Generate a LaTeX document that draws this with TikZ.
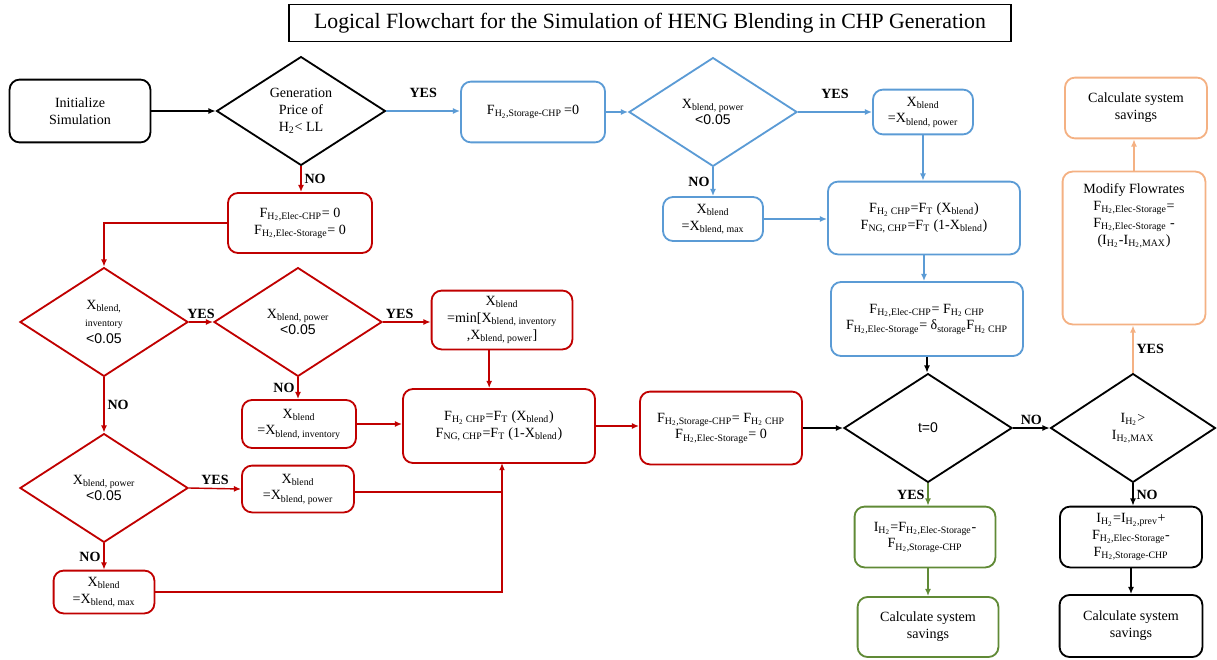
\documentclass[tikz,border=0pt]{standalone}
\usepackage{fontspec}
\setmainfont{Liberation Serif}
\newfontfamily\numfont{Liberation Sans}
\usetikzlibrary{arrows.meta,shapes.geometric}
\definecolor{flowred}{RGB}{192,0,0}
\definecolor{flowblue}{RGB}{91,155,213}
\definecolor{flowgreen}{RGB}{96,138,54}
\definecolor{floworange}{RGB}{244,177,131}
\newcommand{\sbs}[1]{\textsubscript{#1}}
\newcommand{\Hsub}{H\sbs{2}}

\begin{document}
\begin{tikzpicture}[x=0.025cm,y=-0.025cm]
  \tikzstyle{box}=[draw,line width=1.3pt,rounded corners=0.25cm,align=center,
    font=\fontsize{10pt}{12pt}\selectfont,inner sep=2pt]
  \tikzstyle{dec}=[draw,line width=1.3pt,diamond,align=center,inner sep=0pt,
    minimum width=4.2cm,minimum height=2.72cm,font=\fontsize{10pt}{12pt}\selectfont]
  \tikzstyle{flow}=[-{Latex[length=1.8mm,width=1.5mm]},line width=1pt]
  \tikzstyle{lbl}=[font=\bfseries\fontsize{10pt}{12pt}\selectfont,inner sep=2pt]
  \useasboundingbox (0,0) rectangle (1217,659);

  % -- Title --
  \node[draw,line width=1pt,minimum width=18.05cm,minimum height=0.92cm,
    font=\fontsize{15.5pt}{18pt}\selectfont] (title) at (650,23)
    {Logical Flowchart for the Simulation of HENG Blending in CHP Generation};

  % -- Start --
  \node[box,minimum width=3.52cm,minimum height=1.57cm] (init) at (80,111) {Initialize\\ Simulation};
  \node[dec,minimum width=4.22cm] (dprice) at (301,111) {Generation\\ Price of\\ \Hsub{}< LL};

  % -- Blue branch (cheap H2) --
  \node[box,draw=flowblue,minimum width=3.6cm,minimum height=1.52cm] (fstor) at (533,112)
    {F\sbs{\Hsub,Storage-CHP}\,=0};
  \node[dec,draw=flowblue] (dpowA) at (713,112) {X\sbs{blend, power}\\ {\numfont <0.05}};
  \node[box,draw=flowblue,minimum width=2.5cm,minimum height=1.12cm] (xpowA) at (923,112)
    {X\sbs{blend}\\ =X\sbs{blend, power}};
  \node[box,draw=flowblue,minimum width=2.5cm,minimum height=1.1cm] (xmaxA) at (713,219)
    {X\sbs{blend}\\ =X\sbs{blend, max}};
  \node[box,draw=flowblue,minimum width=4.8cm,minimum height=1.82cm] (fchpA) at (924,218)
    {F\sbs{\Hsub{} CHP}=F\sbs{T} (X\sbs{blend})\\ F\sbs{NG, CHP}=F\sbs{T} (1-X\sbs{blend})};
  \node[box,draw=flowblue,minimum width=4.8cm,minimum height=1.85cm] (felecA) at (927,319)
    {F\sbs{\Hsub,Elec-CHP}= F\sbs{\Hsub{} CHP}\\ F\sbs{\Hsub,Elec-Storage}= δ\sbs{storage}F\sbs{\Hsub{} CHP}};

  % -- Time step check --
  \node[dec] (dt) at (928,428) {\numfont t=0};
  \node[dec,minimum width=4.12cm] (dinv2) at (1133,428) {I\sbs{\Hsub}>\\ I\sbs{\Hsub,MAX}};

  % -- Orange branch --
  \node[box,draw=floworange,minimum width=3.57cm,minimum height=3.82cm] (modify) at (1134,248)
    {\parbox[c][3.5cm][t]{3.3cm}{\centering\vspace{4pt}Modify Flowrates\\ F\sbs{\Hsub,Elec-Storage}=\\
     F\sbs{\Hsub,Elec-Storage} -\\ (I\sbs{\Hsub}-I\sbs{\Hsub,MAX})}};
  \node[box,draw=floworange,minimum width=3.55cm,minimum height=1.52cm] (savO) at (1136,108)
    {Calculate system\\ savings};

  % -- Black branch --
  \node[box,minimum width=3.55cm,minimum height=1.52cm] (invB) at (1131,537)
    {I\sbs{\Hsub}=I\sbs{\Hsub,prev}+\\ F\sbs{\Hsub,Elec-Storage}-\\ F\sbs{\Hsub,Storage-CHP}};
  \node[box,minimum width=3.57cm,minimum height=1.55cm] (savB) at (1131,626)
    {Calculate system\\ savings};

  % -- Green branch --
  \node[box,draw=flowgreen,minimum width=3.52cm,minimum height=1.52cm] (invG) at (925,537)
    {I\sbs{\Hsub}=F\sbs{\Hsub,Elec-Storage}-\\ F\sbs{\Hsub,Storage-CHP}};
  \node[box,draw=flowgreen,minimum width=3.52cm,minimum height=1.5cm] (savG) at (928,627)
    {Calculate system\\ savings};

  % -- Red branch (expensive H2) --
  \node[box,draw=flowred,minimum width=3.6cm,minimum height=1.5cm] (fzero) at (300,223)
    {F\sbs{\Hsub,Elec-CHP}= 0\\ F\sbs{\Hsub,Elec-Storage}= 0};
  \node[dec,draw=flowred] (dinv) at (104,322)
    {X\sbs{blend,}\\ {\fontsize{7pt}{8pt}\selectfont inventory}\\ {\numfont <0.05}};
  \node[dec,draw=flowred] (dpowB) at (298,322) {X\sbs{blend, power}\\ {\numfont <0.05}};
  \node[box,draw=flowred,minimum width=3.52cm,minimum height=1.47cm] (xmin) at (502,320)
    {X\sbs{blend}\\ =min[X\sbs{blend, inventory}\\ ,X\sbs{blend, power}]};
  \node[box,draw=flowred,minimum width=2.85cm,minimum height=1.2cm] (xinv) at (299,424)
    {X\sbs{blend}\\ =X\sbs{blend, inventory}};
  \node[box,draw=flowred,minimum width=4.8cm,minimum height=1.85cm] (fchpB) at (499,426)
    {F\sbs{\Hsub{} CHP}=F\sbs{T} (X\sbs{blend})\\ F\sbs{NG, CHP}=F\sbs{T} (1-X\sbs{blend})};
  \node[box,draw=flowred,minimum width=4.05cm,minimum height=1.82cm] (fstorB) at (721,428)
    {F\sbs{\Hsub,Storage-CHP}= F\sbs{\Hsub{} CHP}\\ F\sbs{\Hsub,Elec-Storage}= 0};
  \node[dec,draw=flowred] (dpowC) at (104,488) {X\sbs{blend, power}\\ {\numfont <0.05}};
  \node[box,draw=flowred,minimum width=2.8cm,minimum height=1.17cm] (xpowB) at (298,489)
    {X\sbs{blend}\\ =X\sbs{blend, power}};
  \node[box,draw=flowred,minimum width=2.52cm,minimum height=1.07cm] (xmaxB) at (104,592)
    {X\sbs{blend}\\ =X\sbs{blend, max}};
  \coordinate (joinB) at (502,463);

  % -- Flows --
  \draw[flow] (init) -- (dprice);
  \draw[flow,flowblue] (dprice.east) -- node[lbl,above=7pt,black] (yes1) {YES} (dprice.east -| fstor.west);
  \draw[flow,flowblue] (fstor) -- (dpowA);
  \draw[flow,flowblue] (dpowA.east) -- node[lbl,above=7pt,black] (yes2) {YES} (xpowA.west);
  \draw[flow,flowblue] (dpowA.south) -- node[lbl,left,black] (no1) {NO} (xmaxA.north);
  \draw[flow,flowblue] (xmaxA.east) -- (xmaxA.east -| fchpA.west);
  \draw[flow,flowblue] (xpowA.south) -- (xpowA.south |- fchpA.north);
  \draw[flow,flowblue] (fchpA.south) -- (fchpA.south |- felecA.north);
  \draw[flow] (felecA.south) -- (felecA.south |- dt.north);
  \draw[flow] (dt.east) -- node[lbl,above] (no2) {NO} (dinv2.west);
  \draw[flow,floworange] (dinv2.north) -- node[lbl,right,black] (yes3) {YES} (dinv2.north |- modify.south);
  \draw[flow,floworange] (modify.north) -- (modify.north |- savO.south);
  \draw[flow] (dinv2.south) -- node[lbl,right] (no3) {NO} (dinv2.south |- invB.north);
  \draw[flow] (invB) -- (savB);
  \draw[flow,flowgreen] (dt.south) -- node[lbl,left,black] (yes4) {YES} (dt.south |- invG.north);
  \draw[flow,flowgreen] (invG.south -| dt.south) -- (savG.north -| dt.south);
  \draw[flow,flowred] (dprice.south) -- node[lbl,right,black] (no4) {NO} (dprice.south |- fzero.north);
  \draw[flow,flowred] (fzero.west) -| (dinv.north);
  \draw[flow,flowred] (dinv.east) -- node[lbl,above,black] (yes5) {YES} (dpowB.west);
  \draw[flow,flowred] (dpowB.east) -- node[lbl,above,black,pos=0.35] (yes6) {YES} (dpowB.east -| xmin.west);
  \draw[flow,flowred] ([xshift=-0.32cm]xmin.south) -- ([xshift=-0.32cm]xmin.south |- fchpB.north);
  \draw[flow,flowred] (dpowB.south) -- node[lbl,left,black] (no5) {NO} (dpowB.south |- xinv.north);
  \draw[flow,flowred] (xinv.east) -- (xinv.east -| fchpB.west);
  \draw[flow,flowred] (dinv.south) -- node[lbl,right,black] (no6) {NO} (dpowC.north);
  \draw[flow,flowred] (dpowC.east) -- node[lbl,above,black] (yes7) {YES} (xpowB.west);
  \draw[flow,flowred] (dpowC.south) -- node[lbl,left,black] (no7) {NO} (xmaxB.north);
  \draw[flowred,line width=1pt] ([yshift=-2pt]xpowB.east) -- ([yshift=-2pt]xpowB.east -| joinB);
  \draw[flow,flowred] (xmaxB.east) -| (joinB);
  \draw[flow,flowred] (fchpB.east) -- (fchpB.east -| fstorB.west);
  \draw[flow] (fstorB.east) -- (dt.west);
\end{tikzpicture}
\end{document}
